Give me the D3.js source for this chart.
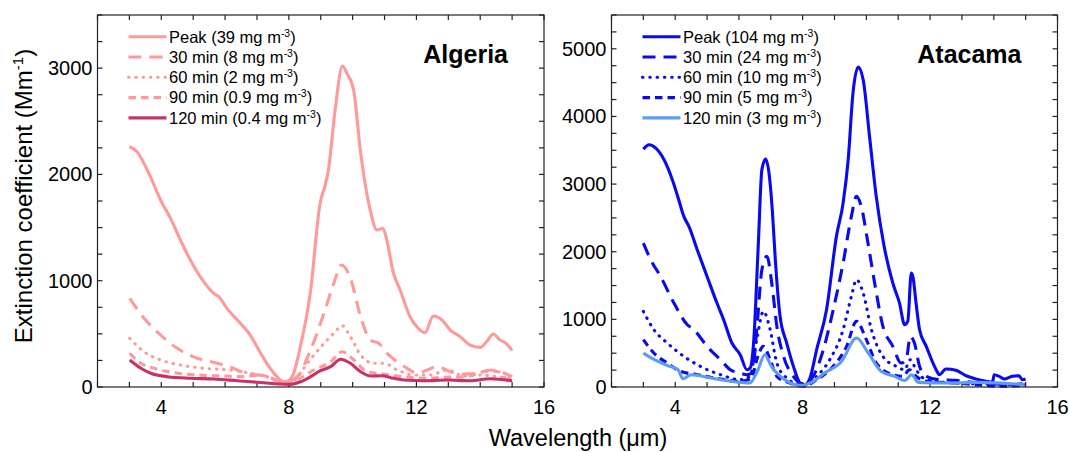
<!DOCTYPE html>
<meta charset="utf-8">
<title>Extinction spectra</title>
<style>

    body {
        margin: 0;
        background: #fff;
    }

    text {
        font-family: "Liberation Sans", Arial, sans-serif;
        fill: #000;
    }

    .frame {
        fill: none;
        stroke: #222;
        stroke-width: 1.2px;
    }

    .tick {
        stroke: #222;
        stroke-width: 1.2px;
    }

    .curve {
        fill: none;
        stroke-width: 3.1px;
    }

</style>
<body>
<script src="https://cdn.jsdelivr.net/npm/d3@7"></script>
<script>

    // series names and concentrations (legend)
    var times = ["Peak", "30 min", "60 min", "90 min", "120 min"];
    var algeriaConc = ["39", "8", "2", "0.9", "0.4"];
    var atacamaConc = ["104", "24", "10", "5", "3"];

    var xTickLabels = [4, 8, 12, 16];
    var algeriaYTicks = [0, 1000, 2000, 3000];
    var atacamaYTicks = [0, 1000, 2000, 3000, 4000, 5000];

    // [wavelength (um), extinction (Mm-1)]
    var algeriaPeak = [[3.0,2260],[3.24,2214],[3.56,2042],[4.03,1728],[4.29,1587],[4.6,1383],[4.91,1195],[5.33,991],[5.64,881],[5.8,850],[6.06,740],[6.48,599],[6.79,489],[7.0,379],[7.31,223],[7.63,97],[7.84,50],[7.99,59],[8.15,129],[8.36,379],[8.67,881],[8.98,1728],[9.14,1900],[9.24,2042],[9.45,2606],[9.68,3020],[9.82,2951],[10.03,2794],[10.24,2230],[10.55,1665],[10.76,1477],[10.95,1493],[11.07,1383],[11.28,1070],[11.49,913],[11.8,661],[12.06,552],[12.27,511],[12.53,668],[12.8,630],[13.06,536],[13.37,473],[13.68,395],[14.0,373],[14.2,426],[14.41,499],[14.62,442],[14.81,411],[15.0,342]];
    var algeria30 = [[3.01,834],[3.46,646],[3.98,489],[4.5,364],[5.13,270],[5.76,223],[6.17,185],[6.7,129],[7.22,103],[7.64,66],[7.9,50],[8.26,97],[8.68,348],[9.1,693],[9.41,976],[9.65,1148],[9.93,1023],[10.25,661],[10.56,442],[10.82,411],[11.08,317],[11.4,238],[11.71,176],[12.02,129],[12.34,160],[12.65,191],[13.07,144],[13.49,122],[13.9,129],[14.32,160],[14.63,144],[15.0,97]];
    var algeria60 = [[3.01,458],[3.46,332],[3.98,254],[4.6,207],[5.34,176],[6.17,160],[6.8,129],[7.32,97],[7.79,50],[8.16,66],[8.58,223],[9.1,411],[9.41,505],[9.67,577],[9.93,473],[10.25,301],[10.66,223],[10.98,223],[11.4,160],[11.92,113],[12.44,113],[12.96,160],[13.49,103],[14.0,113],[14.53,97],[15.0,82]];
    var algeria90 = [[3.01,317],[3.36,223],[3.78,176],[4.4,135],[5.13,113],[5.97,103],[6.6,97],[7.11,113],[7.43,82],[7.79,40],[8.26,72],[8.79,160],[9.31,238],[9.67,332],[10.04,254],[10.46,144],[10.98,122],[11.61,97],[12.23,82],[12.86,91],[13.49,97],[14.32,153],[14.6,140],[14.85,60],[15.0,20]];
    var algeria120 = [[3.01,254],[3.36,176],[3.67,129],[4.19,97],[4.92,82],[5.65,75],[6.38,59],[7.22,40],[7.69,28],[8.05,25],[8.37,50],[8.68,97],[8.99,153],[9.31,191],[9.62,261],[9.93,223],[10.25,144],[10.56,103],[10.93,106],[11.19,88],[11.61,66],[12.23,59],[12.96,66],[13.67,59],[14.32,78],[15.0,59]];

    var atacamaPeak = [[3.0,3517],[3.18,3581],[3.39,3532],[3.65,3360],[3.91,3064],[4.11,2768],[4.27,2522],[4.43,2374],[4.69,2030],[5.0,1635],[5.31,1241],[5.52,995],[5.78,650],[6.04,478],[6.25,256],[6.35,281],[6.46,650],[6.61,2128],[6.72,3212],[6.84,3369],[6.96,3100],[7.05,2600],[7.14,1900],[7.29,1050],[7.5,650],[7.71,305],[7.92,59],[8.07,34],[8.23,133],[8.44,552],[8.75,1143],[9.06,2227],[9.27,2719],[9.43,3360],[9.58,4345],[9.74,4729],[9.9,4542],[10.1,3704],[10.31,2818],[10.55,2100],[10.83,1537],[11.04,1241],[11.2,921],[11.3,970],[11.41,1685],[11.46,1635],[11.56,1241],[11.67,847],[11.88,601],[12.19,256],[12.29,182],[12.5,266],[12.81,246],[13.13,167],[13.44,118],[13.75,84],[13.96,69],[14.01,182],[14.17,158],[14.32,118],[14.58,158],[14.79,167],[14.9,108],[15.0,118]];
    var atacama30 = [[3.0,2128],[3.23,1882],[3.54,1635],[3.96,1241],[4.38,921],[4.59,847],[5.0,601],[5.42,404],[5.73,256],[6.04,207],[6.25,182],[6.41,207],[6.56,847],[6.72,1734],[6.88,1931],[7.03,1537],[7.19,897],[7.4,453],[7.71,158],[8.02,34],[8.33,158],[8.65,552],[8.96,1143],[9.27,1833],[9.53,2522],[9.69,2818],[9.84,2670],[10.05,2128],[10.26,1537],[10.52,897],[10.83,601],[11.09,355],[11.25,404],[11.38,749],[11.51,650],[11.67,305],[11.88,158],[12.29,108],[12.81,99],[13.33,69],[13.85,59],[14.3,34],[15.0,49]];
    var atacama60 = [[3.0,1118],[3.33,847],[3.75,650],[4.27,453],[4.79,305],[5.42,182],[6.04,108],[6.35,158],[6.56,700],[6.77,1118],[6.98,847],[7.19,355],[7.5,133],[8.02,20],[8.44,158],[8.85,404],[9.27,847],[9.53,1340],[9.69,1586],[9.9,1389],[10.16,847],[10.52,453],[10.94,305],[11.2,256],[11.38,404],[11.56,256],[11.88,108],[12.81,59],[15.0,34]];
    var atacama90 = [[3.0,700],[3.33,502],[3.75,355],[4.17,232],[4.69,182],[5.42,118],[6.04,84],[6.4,133],[6.56,404],[6.77,601],[6.98,404],[7.19,158],[7.6,59],[8.02,10],[8.44,108],[8.96,305],[9.38,601],[9.69,970],[10.0,700],[10.31,355],[10.83,182],[11.15,158],[11.35,256],[11.56,158],[11.88,84],[12.81,59],[14.3,10],[15.0,34]];
    var atacama120 = [[3.0,502],[3.35,403],[3.77,315],[4.09,256],[4.24,123],[4.5,182],[5.13,133],[5.76,83],[6.34,59],[6.6,256],[6.81,477],[7.02,304],[7.44,108],[7.96,24],[8.27,68],[8.69,207],[9.22,378],[9.69,724],[10.06,502],[10.47,230],[10.89,157],[11.21,97],[11.42,182],[11.63,68],[12.46,59],[13.51,68],[14.97,34]];

    var dashes = [null, "13,8", "0.5,6.8", "7.5,5", null];
    var caps = ["butt", "butt", "round", "butt", "butt"];

    var w = 1069,
        h = 452;

    var svg = d3.select("body").append("svg")
        .attr("width", w)
        .attr("height", h);

    var panels = [
        {
            name: "Algeria",
            left: 97.5, right: 544, top: 15, bottom: 387,
            ymax: 3500, yticks: algeriaYTicks,
            series: [algeriaPeak, algeria30, algeria60, algeria90, algeria120],
            colors: ["#fe9a9a", "#fe9a9a", "#fe9a9a", "#fe9a9a", "#c8326a"],
            conc: algeriaConc
        },
        {
            name: "Atacama",
            left: 611.5, right: 1057.5, top: 15, bottom: 387,
            ymax: 5500, yticks: atacamaYTicks,
            series: [atacamaPeak, atacama30, atacama60, atacama90, atacama120],
            colors: ["#0a0aee", "#0a0aee", "#0a0aee", "#0a0aee", "#5d9cf6"],
            conc: atacamaConc
        }
    ];

    panels.forEach(drawPanel);

    function drawPanel(p) {
        var x = d3.scaleLinear().domain([2, 16]).range([p.left, p.right]);
        var y = d3.scaleLinear().domain([0, p.ymax]).range([p.bottom, p.top]);

        var g = svg.append("g");

        // ticks, inside on all four sides
        var tl = 5;
        d3.range(2, 17, 1).forEach(function(t) {
            g.append("line").attr("class", "tick")
                .attr("x1", x(t)).attr("x2", x(t))
                .attr("y1", p.bottom).attr("y2", p.bottom - tl);
            g.append("line").attr("class", "tick")
                .attr("x1", x(t)).attr("x2", x(t))
                .attr("y1", p.top).attr("y2", p.top + tl);
        });
        d3.range(0, p.ymax + 1, 250).forEach(function(t) {
            g.append("line").attr("class", "tick")
                .attr("x1", p.left).attr("x2", p.left + tl)
                .attr("y1", y(t)).attr("y2", y(t));
            g.append("line").attr("class", "tick")
                .attr("x1", p.right).attr("x2", p.right - tl)
                .attr("y1", y(t)).attr("y2", y(t));
        });

        g.selectAll(".xlab")
            .data(xTickLabels)
            .enter().append("text")
            .attr("x", x)
            .attr("y", p.bottom + 27)
            .attr("text-anchor", "middle")
            .style("font-size", "20px")
            .text(function(d) { return d; });

        g.selectAll(".ylab")
            .data(p.yticks)
            .enter().append("text")
            .attr("x", p.left - 5)
            .attr("y", function(d) { return y(d) + 7; })
            .attr("text-anchor", "end")
            .style("font-size", "20px")
            .text(function(d) { return d; });

        var line = d3.line()
            .x(function(d) { return x(d[0]); })
            .y(function(d) { return y(d[1]); })
            .curve(d3.curveMonotoneX);

        p.series.forEach(function(s, i) {
            g.append("path")
                .attr("class", "curve")
                .attr("d", line(s))
                .style("stroke", p.colors[i])
                .style("stroke-dasharray", dashes[i])
                .style("stroke-linecap", caps[i]);
        });

        g.append("rect").attr("class", "frame")
            .attr("x", p.left).attr("y", p.top)
            .attr("width", p.right - p.left)
            .attr("height", p.bottom - p.top);

        // legend
        var lg = g.append("g");
        times.forEach(function(t, i) {
            var ly = 36.7 + i * 20.3;
            lg.append("line")
                .attr("x1", p.left + 31).attr("x2", p.left + 69)
                .attr("y1", ly).attr("y2", ly)
                .style("stroke", p.colors[i])
                .style("stroke-width", 3.1)
                .style("stroke-dasharray", dashes[i])
                .style("stroke-linecap", caps[i]);
            var tx = lg.append("text")
                .attr("x", p.left + 71.5)
                .attr("y", ly + 5.8)
                .style("font-size", "16.5px");
            tx.append("tspan").text(t + " (" + p.conc[i] + " mg m");
            tx.append("tspan").attr("dy", -6).style("font-size", "10.5px").text("-3");
            tx.append("tspan").attr("dy", 6).text(")");
        });

        g.append("text")
            .attr("x", p.right - 36)
            .attr("y", 63)
            .attr("text-anchor", "end")
            .style("font-size", "25px")
            .style("font-weight", "bold")
            .text(p.name);
    }

    // axis titles
    var yt = svg.append("text")
        .attr("transform", "translate(32,196)rotate(-90)")
        .attr("text-anchor", "middle")
        .style("font-size", "24px");
    yt.append("tspan").text("Extinction coefficient (Mm");
    yt.append("tspan").attr("dy", -9).style("font-size", "15px").text("-1");
    yt.append("tspan").attr("dy", 9).text(")");

    svg.append("text")
        .attr("x", 578)
        .attr("y", 446)
        .attr("text-anchor", "middle")
        .style("font-size", "23.5px")
        .text("Wavelength (\u03bcm)");

</script>
